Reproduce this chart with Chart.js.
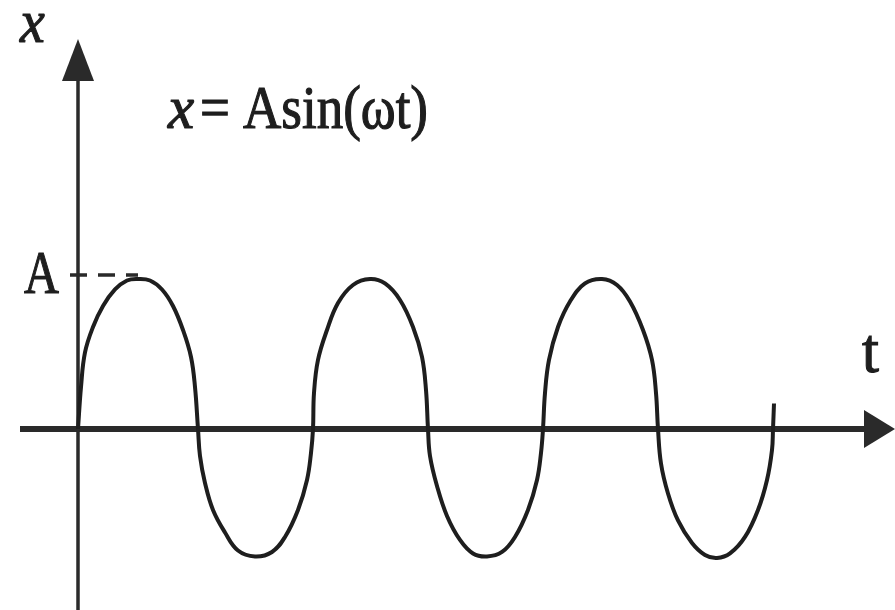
<!DOCTYPE html>
<html>
<head>
<meta charset="utf-8">
<title>x = Asin(ωt)</title>
<script src="https://cdn.jsdelivr.net/npm/chart.js@4/dist/chart.umd.min.js"></script>
<style>
  html, body { margin: 0; padding: 0; background: #ffffff; }
  #wave { display: block; }
</style>
</head>
<body>
<canvas id="wave" width="895" height="610"></canvas>
<script>
// --- Sampled displacement curve ---
// time along the horizontal axis (arbitrary units), one row per half swing
const tValues = [
  0, 3, 7, 15, 25, 37, 49, 60, 72, 84, 95, 105, 113, 117,
  120, 122, 127, 135, 147, 160, 177, 194, 207, 220, 229, 233,
  235, 236, 240, 249, 260, 275, 292, 307, 322, 335, 344, 348,
  350, 352, 359, 369, 382, 395, 409, 424, 437, 450, 459, 463,
  465, 467, 471, 480, 492, 507, 524, 539, 552, 565, 574, 578,
  580, 583, 590, 600, 614, 627, 639, 652, 667, 680, 689, 694, 695, 696
];
// displacement x, in units of the amplitude A
const xValues = [
  0, 0.28, 0.51, 0.68, 0.82, 0.93, 0.99, 1.00, 0.99, 0.93, 0.82, 0.66, 0.48, 0.28,
  0, -0.18, -0.36, -0.54, -0.69, -0.81, -0.85, -0.82, -0.72, -0.54, -0.34, -0.16,
  0, 0.24, 0.46, 0.66, 0.84, 0.96, 1.00, 0.97, 0.86, 0.68, 0.48, 0.26,
  0, -0.18, -0.38, -0.58, -0.74, -0.83, -0.85, -0.82, -0.72, -0.54, -0.34, -0.16,
  0, 0.24, 0.46, 0.68, 0.85, 0.97, 1.00, 0.96, 0.85, 0.66, 0.46, 0.24,
  0, -0.23, -0.43, -0.61, -0.76, -0.84, -0.86, -0.83, -0.72, -0.54, -0.34, -0.14, 0, 0.17
];
const amplitude = 1;

// visible window of both axes
const tRange = [-78, 817];
const xRange = [-1.207, 2.86];
// where the drawn axis arrows start and end
const tAxisStart = -58;
const xAxisTop = 2.6;

const serif = "'Liberation Serif', 'DejaVu Serif', serif";
const ink = '#1e1e1e';

// draw text squeezed horizontally by sx, with a thin outline to thicken it
function squeezed(ctx, text, x, y, font, sx) {
    ctx.save();
    ctx.font = font;
    ctx.translate(x, y);
    ctx.scale(sx, 1);
    ctx.lineWidth = 1.2;
    ctx.strokeStyle = ctx.fillStyle;
    ctx.fillText(text, 0, 0);
    ctx.strokeText(text, 0, 0);
    ctx.restore();
}

// arrowed axes, drawn under the curve
const axesPlugin = {
    id: 'arrowAxes',
    beforeDatasetsDraw(chart) {
        const ctx = chart.ctx;
        const xs = chart.scales.x;
        const ys = chart.scales.y;
        const ox = xs.getPixelForValue(0);
        const oy = ys.getPixelForValue(0);
        const right = xs.getPixelForValue(tRange[1]);
        const top = ys.getPixelForValue(xAxisTop);

        ctx.save();
        ctx.fillStyle = '#2a2a2a';
        ctx.strokeStyle = '#2a2a2a';

        // horizontal t axis
        ctx.lineWidth = 6;
        ctx.beginPath();
        ctx.moveTo(xs.getPixelForValue(tAxisStart), oy);
        ctx.lineTo(right - 28, oy);
        ctx.stroke();
        ctx.beginPath();
        ctx.moveTo(right, oy);
        ctx.lineTo(right - 31, oy - 19);
        ctx.lineTo(right - 31, oy + 19);
        ctx.closePath();
        ctx.fill();

        // vertical x axis
        ctx.lineWidth = 3.5;
        ctx.beginPath();
        ctx.moveTo(ox, chart.height);
        ctx.lineTo(ox, top + 38);
        ctx.stroke();
        ctx.beginPath();
        ctx.moveTo(ox, top);
        ctx.lineTo(ox - 16, top + 42);
        ctx.lineTo(ox + 16, top + 42);
        ctx.closePath();
        ctx.fill();

        // dashed guide from A to the first crest
        const ay = ys.getPixelForValue(amplitude) - 4;
        ctx.lineWidth = 3.5;
        ctx.setLineDash([17, 11]);
        ctx.beginPath();
        ctx.moveTo(ox - 8, ay);
        ctx.lineTo(xs.getPixelForValue(60), ay);
        ctx.stroke();
        ctx.restore();
    },
    afterDraw(chart) {
        const ctx = chart.ctx;
        const ys = chart.scales.y;
        ctx.save();
        ctx.fillStyle = ink;
        ctx.textBaseline = 'alphabetic';

        // axis names
        squeezed(ctx, 'x', 20, 42, 'italic 62px ' + serif, 0.9);
        squeezed(ctx, 't', 862, 372, '64px ' + serif, 0.95);

        // amplitude mark
        squeezed(ctx, 'A', 24, ys.getPixelForValue(amplitude) + 14, '62px ' + serif, 0.78);

        // equation
        squeezed(ctx, 'x', 168, 128, 'italic 62px ' + serif, 0.95);
        ctx.font = '62px ' + serif;
        const rest = '= Asin(ωt)';
        const w = ctx.measureText(rest).width;
        squeezed(ctx, rest, 200, 128, '62px ' + serif, 228 / w);
        ctx.restore();
    }
};

const points = tValues.map((t, i) => ({ x: t, y: xValues[i] }));

new Chart(document.getElementById('wave'), {
    type: 'scatter',
    data: {
        datasets: [{
            data: points,
            showLine: true,
            borderColor: ink,
            borderWidth: 4,
            pointRadius: 0,
            tension: 0.4,
            fill: false
        }]
    },
    options: {
        responsive: false,
        animation: false,
        layout: { padding: 0 },
        plugins: {
            legend: { display: false },
            tooltip: { enabled: false }
        },
        scales: {
            x: { type: 'linear', min: tRange[0], max: tRange[1], display: false },
            y: { type: 'linear', min: xRange[0], max: xRange[1], display: false }
        }
    },
    plugins: [axesPlugin]
});
</script>
</body>
</html>
